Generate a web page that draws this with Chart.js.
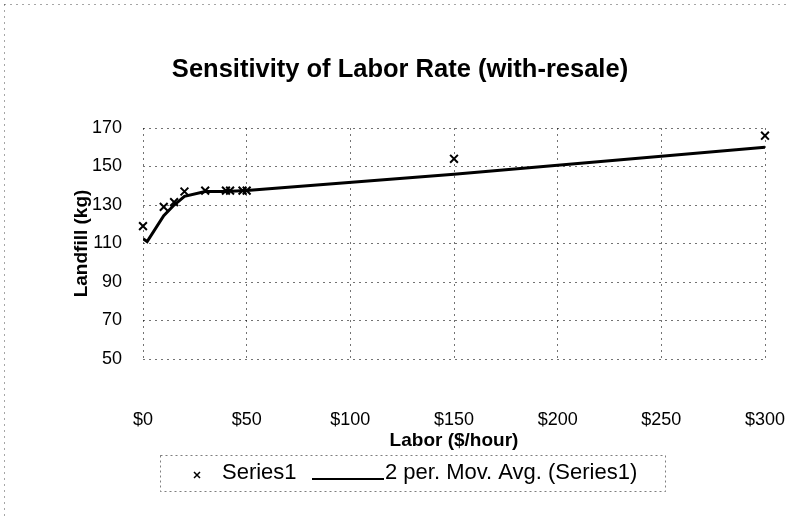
<!DOCTYPE html>
<html>
<head>
<meta charset="utf-8">
<script src="https://cdn.jsdelivr.net/npm/chart.js@4.4.1/dist/chart.umd.min.js"></script>
<style>
  html, body { margin: 0; padding: 0; background: #fff; }
  #wrap { width: 794px; height: 523px; }
</style>
</head>
<body>
<div id="wrap"><canvas id="chart" width="794" height="523"></canvas></div>
<script>
// values
const laborRate = [0, 10, 15, 20, 30, 40, 42, 48, 50, 150, 300]
const landfill = [119, 129, 131.5, 137, 137.5, 137.5, 137.5, 137.5, 137.5, 154, 166]

// 2 per. moving average trendline
const avgRate = [0, 2, 10, 15, 20, 30, 40, 50, 150, 300]
const avgLandfill = [112.5, 111, 124.5, 130, 134.5, 137, 137, 137.5, 146, 160]

const yTicks = [50, 70, 90, 110, 130, 150, 170]
const xTicks = [0, 50, 100, 150, 200, 250, 300]

const titleText = "Sensitivity of Labor Rate (with-resale)"
const xTitle = "Labor ($/hour)"
const yTitle = "Landfill (kg)"
const seriesName = "Series1"
const trendName = "2 per. Mov. Avg. (Series1)"

const font = "'Liberation Sans', Arial, sans-serif"

const extras = {
  id: "extras",
  afterDraw(chart) {
    const ctx = chart.ctx
    const area = chart.chartArea
    ctx.save()

    // faint outer chart frame
    ctx.strokeStyle = "rgba(0,0,0,0.35)"
    ctx.lineWidth = 1
    ctx.setLineDash([2, 4])
    ctx.beginPath()
    ctx.moveTo(4, 4.5)
    ctx.lineTo(790, 4.5)
    ctx.moveTo(4.5, 4)
    ctx.lineTo(4.5, 519)
    ctx.stroke()
    ctx.setLineDash([])

    ctx.fillStyle = "#000"
    ctx.textAlign = "center"
    ctx.textBaseline = "middle"
    ctx.font = "bold 25.5px " + font
    ctx.fillText(titleText, 400, 70)

    ctx.font = "bold 19px " + font
    ctx.fillText(xTitle, (area.left + area.right) / 2, 441)

    ctx.save()
    ctx.translate(82, (area.top + area.bottom) / 2)
    ctx.rotate(-Math.PI / 2)
    ctx.fillText(yTitle, 0, 0)
    ctx.restore()

    // legend
    const lx = 160, ly = 455, lw = 505, lh = 36
    ctx.strokeStyle = "rgba(0,0,0,0.5)"
    ctx.lineWidth = 1
    ctx.setLineDash([2, 3])
    ctx.strokeRect(lx + 0.5, ly + 0.5, lw, lh)
    ctx.setLineDash([])
    const cy = ly + lh / 2
    ctx.strokeStyle = "#000"
    ctx.lineWidth = 1.5
    ctx.beginPath()
    ctx.moveTo(194, cy - 1)
    ctx.lineTo(200, cy + 5)
    ctx.moveTo(200, cy - 1)
    ctx.lineTo(194, cy + 5)
    ctx.stroke()
    ctx.font = "22px " + font
    ctx.textAlign = "left"
    ctx.fillText(seriesName, 222, cy)
    ctx.lineWidth = 2
    ctx.beginPath()
    ctx.moveTo(312, cy + 6)
    ctx.lineTo(384, cy + 6)
    ctx.stroke()
    ctx.fillText(trendName, 385, cy)

    ctx.restore()
  }
}

const gridLine = {
  color: "rgba(0,0,0,0.55)",
  lineWidth: 1,
  drawTicks: false,
}

new Chart(document.getElementById("chart"), {
  type: "scatter",
  data: {
    datasets: [
      {
        label: trendName,
        type: "line",
        data: avgRate.map((x, i) => ({ x: x, y: avgLandfill[i] })),
        borderColor: "#000",
        borderWidth: 3,
        pointRadius: 0,
        tension: 0,
        order: 2,
      },
      {
        label: seriesName,
        data: laborRate.map((x, i) => ({ x: x, y: landfill[i] })),
        pointStyle: "crossRot",
        pointRadius: 5.5,
        borderColor: "#000",
        backgroundColor: "#000",
        borderWidth: 2,
        clip: false,
        order: 1,
      },
    ],
  },
  options: {
    responsive: false,
    animation: false,
    layout: { padding: { top: 128, right: 29, left: 0, bottom: 0 } },
    plugins: {
      legend: { display: false },
      title: { display: false },
      tooltip: { enabled: false },
    },
    scales: {
      x: {
        type: "linear",
        min: xTicks[0],
        max: xTicks[xTicks.length - 1],
        afterBuildTicks: (s) => { s.ticks = xTicks.map((v) => ({ value: v })) },
        afterFit: (s) => {
          s.height = 164
          s.paddingLeft = 0
          s.paddingRight = 0
        },
        grid: gridLine,
        border: { display: false, dash: [2, 4] },
        ticks: {
          color: "#000",
          font: { family: font, size: 18 },
          padding: 50,
          callback: (v) => "$" + v,
        },
      },
      y: {
        min: yTicks[0],
        max: yTicks[yTicks.length - 1],
        afterBuildTicks: (s) => { s.ticks = yTicks.map((v) => ({ value: v })) },
        afterFit: (s) => {
          s.width = 143
          s.paddingTop = 0
          s.paddingBottom = 0
        },
        grid: gridLine,
        border: { display: false, dash: [2, 4] },
        ticks: {
          color: "#000",
          font: { family: font, size: 18 },
          padding: 21,
        },
      },
    },
  },
  plugins: [extras],
})
</script>
</body>
</html>
